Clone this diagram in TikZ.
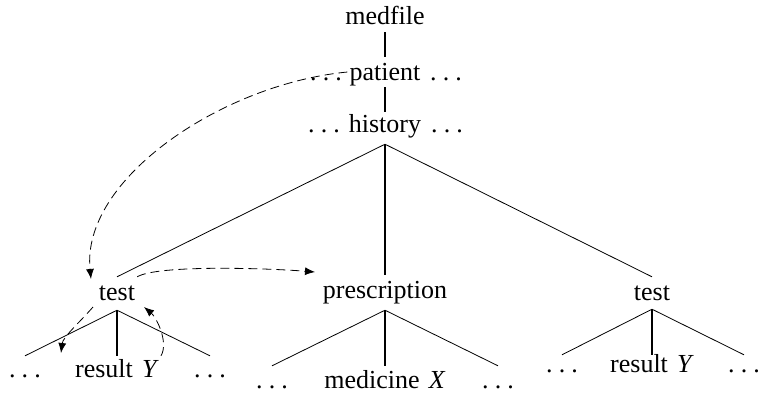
\documentclass[tikz,border=0pt]{standalone}
\usepackage{fontspec}
\setmainfont{Liberation Serif}
\usetikzlibrary{arrows.meta}
\newcommand\mydots{.\kern0.24em.\kern0.24em.}
\begin{document}
\begin{tikzpicture}[x=1pt,y=-1pt,
  every node/.style={font=\fontsize{26}{30}\selectfont, inner xsep=2pt, inner ysep=0pt, anchor=base},
  edge/.style={line width=0.8pt},
  vedge/.style={line width=1.6pt},
  ref/.style={line width=0.8pt, dash pattern=on 9pt off 5pt, -{Latex[length=10pt,width=8pt]}}
]
\path[use as bounding box] (0,0) rectangle (764,392);

% upper chain
\node[text height=18pt, text depth=8pt] (medfile) at (385,24) {medfile};
\node[text height=23pt, text depth=7pt] (patient) at (385,80) {patient};
\node (pl) at (326,80) {\mydots};
\node (pr) at (446,80) {\mydots};
\node[text height=20pt, text depth=12pt] (history) at (385,132) {history};
\node (hl) at (324,132) {\mydots};
\node (hr) at (447,132) {\mydots};

% middle level
\node[text height=23pt, text depth=10pt] (test1) at (117,300) {test};
\node[text height=23pt, text depth=12pt] (presc) at (385,298) {prescription};
\node[text height=23pt, text depth=9pt] (test2) at (652,300) {test};

% leaves of left test
\node[text height=21pt, text depth=3pt] (d1) at (25,377) {\mydots};
\node[text height=21pt, text depth=3pt] (r1) at (117,377) {result\hspace{0.35em}\textit{Y}};
\node[text height=21pt, text depth=3pt] (d2) at (210,377) {\mydots};
% leaves of prescription
\node[text height=22pt, text depth=1pt] (d3) at (272,388) {\mydots};
\node[text height=22pt, text depth=1pt] (m) at (385,388) {medicine\hspace{0.35em}\textit{X}};
\node[text height=22pt, text depth=1pt] (d4) at (498,388) {\mydots};
% leaves of right test
\node[text height=17pt, text depth=3pt] (d5) at (562,372) {\mydots};
\node[text height=17pt, text depth=3pt] (r2) at (652,372) {result\hspace{0.35em}\textit{Y}};
\node[text height=17pt, text depth=3pt] (d6) at (744,372) {\mydots};

% tree edges
\draw[vedge] (medfile.south) -- (patient.north);
\draw[vedge] (patient.south) -- (history.north);
\draw[edge] (history.south) -- (test1.north);
\draw[vedge] (history.south) -- (presc.north);
\draw[edge] (history.south) -- (test2.north);

\draw[edge] (test1.south) -- (d1.north);
\draw[vedge] (test1.south) -- (r1.north);
\draw[edge] (test1.south) -- (d2.north);

\draw[edge] (presc.south) -- (d3.north);
\draw[vedge] (presc.south) -- (m.north);
\draw[edge] (presc.south) -- (d4.north);

\draw[edge] (test2.south) -- (d5.north);
\draw[vedge] (test2.south) -- (r2.north);
\draw[edge] (test2.south) -- (d6.north);

% dashed reference arrows
\coordinate (a1end) at (91,279);
\coordinate (a2end) at (315,272);
\coordinate (a3start) at (93,307);
\coordinate (a3end) at (61,353);
\coordinate (a4end) at (144,307);
\draw[ref] (patient.west) .. controls +(-125,12) and +(-10,-100) .. (a1end);
\draw[ref] (test1.north east) .. controls +(20,-12) and +(-50,-4) .. (a2end);
\draw[ref] (a3start) .. controls +(-14,16) and +(2,-16) .. (a3end);
\draw[ref] (r1.north east) .. controls +(8,-14) and +(12,10) .. (a4end);
\end{tikzpicture}
\end{document}
